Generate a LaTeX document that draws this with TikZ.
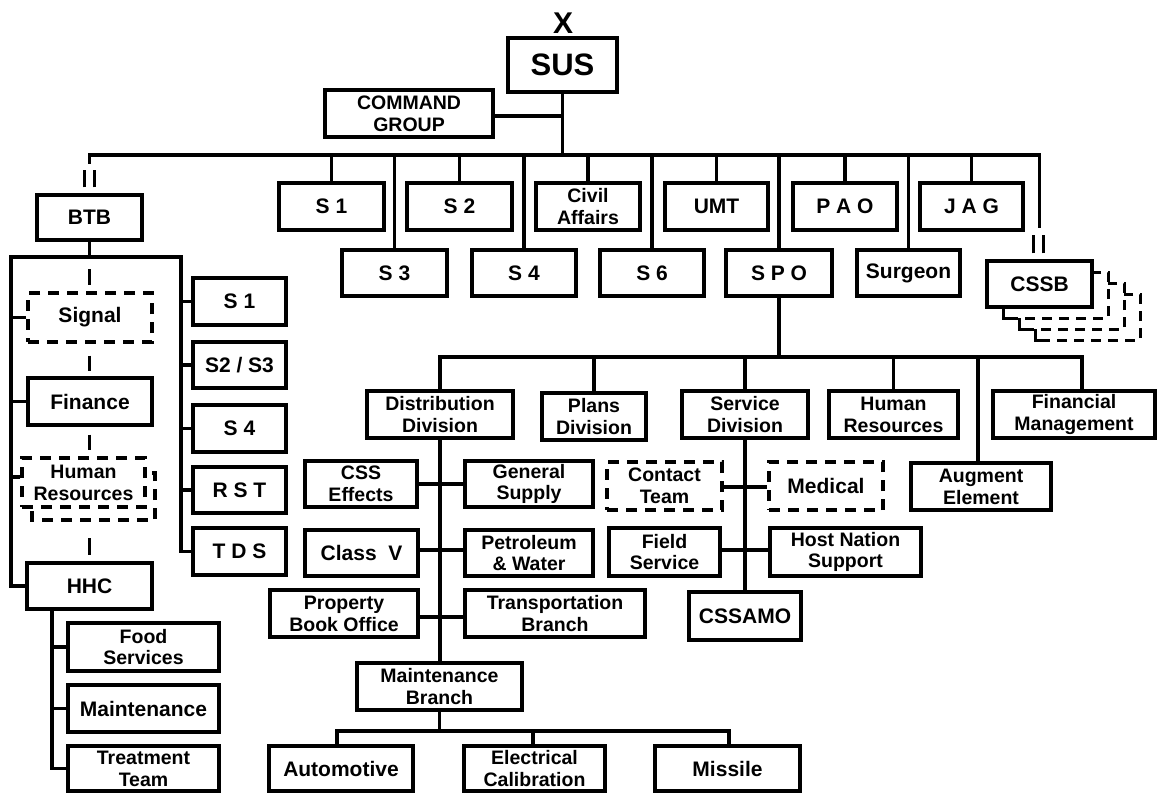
\documentclass[tikz,border=0pt]{standalone}
\usepackage{fontspec}
\setmainfont{Liberation Sans}
% place a box by its corners: style, name, x1, y1, x2, y2, text
\newcommand\placebox[7]{%
  \node[#1, minimum width={#5-#3}, minimum height={#6-#4}] (#2)
    at ({(#3+#5)/2},{(#4+#6)/2}) {#7};}
\begin{document}
\begin{tikzpicture}[x=1pt,y=-1pt,
  every node/.style={font=\bfseries\fontsize{19.5}{21.8}\selectfont},
  box/.style={draw, line width=3.2pt, fill=white, align=center, inner sep=0pt},
  one/.style={box, font=\bfseries\fontsize{21}{22}\selectfont},
  dbox/.style={box, dash pattern=on 11pt off 8pt},
  link/.style={line width=3.2pt},
  cut/.style={line width=3.6pt},
  shadow/.style={draw, line width=3pt, fill=white, dash pattern=on 10pt off 7pt},
]
\fill[white] (0,0) rectangle (1158,794);
\useasboundingbox (0,0) rectangle (1158,794);

% ---- headquarters ----
\node[font=\bfseries\fontsize{30}{30}\selectfont] (xmark) at (563,23) {X};
\placebox{box, font=\bfseries\fontsize{31}{31}\selectfont}{sus}{508}{38}{617}{92}{SUS}
\placebox{box}{cmd}{325}{90}{493}{137}{COMMAND\\GROUP}

% ---- staff sections ----
\placebox{one}{sone}{279}{183}{384}{230}{S 1}
\placebox{one}{stwo}{407}{183}{512}{230}{S 2}
\placebox{box}{civil}{536}{183}{640}{230}{Civil\\Affairs}
\placebox{one}{umt}{665}{183}{768}{230}{UMT}
\placebox{one}{pao}{793}{183}{897}{230}{P A O}
\placebox{one}{jag}{920}{183}{1023}{230}{J A G}
\placebox{one}{sthree}{342}{250}{447}{296}{S 3}
\placebox{one}{sfour}{472}{250}{576}{296}{S 4}
\placebox{one}{ssix}{600}{250}{704}{296}{S 6}
\placebox{one}{spo}{726}{250}{832}{296}{S P O}
\placebox{one}{surg}{857}{250}{960}{296}{Surgeon}

% ---- CSSB with stacked dashed copies behind it ----
\foreach \i in {3,2,1}{
  \path[shadow] ({987+16*\i},{261+11*\i}) rectangle ({1092+16*\i},{307+11*\i});
  \draw[line width=3pt] ({987+16*\i},{307+11*(\i-1)}) -- ({987+16*\i},{307+11*\i}) -- ++(10,0);
}
\placebox{one}{cssb}{987}{261}{1092}{307}{CSSB}

% ---- BTB ----
\placebox{one}{btb}{37}{195}{142}{240}{BTB}
\placebox{dbox, one}{signal}{28}{293}{152}{342}{Signal}
\placebox{one}{finance}{28}{378}{152}{425}{Finance}
\path[dbox] (32,473) rectangle (155,520);
\placebox{dbox}{hra}{22}{458}{145}{507}{Human\\Resources}
\coordinate (hrb) at (93.5,520);
\placebox{one}{hhc}{27}{563}{152}{609}{HHC}
\placebox{one}{bsone}{193}{278}{286}{325}{S 1}
\placebox{one}{bstt}{193}{342}{286}{388}{S2 / S3}
\placebox{one}{bsfour}{193}{405}{286}{452}{S 4}
\placebox{one}{rst}{193}{467}{286}{513}{R S T}
\placebox{one}{tds}{193}{528}{286}{575}{T D S}
\placebox{box}{food}{68}{623}{219}{671}{Food\\Services}
\placebox{one}{hmaint}{68}{685}{219}{732}{Maintenance}
\placebox{box}{treat}{68}{746}{219}{791}{Treatment\\Team}

% ---- SPO ----
\placebox{box}{dd}{367}{391}{513}{438}{Distribution\\Division}
\placebox{box}{pd}{542}{393}{646}{440}{Plans\\Division}
\placebox{box}{sd}{682}{391}{808}{438}{Service\\Division}
\placebox{box}{hrs}{829}{391}{958}{438}{Human\\Resources}
\placebox{box}{ae}{911}{463}{1051}{510}{Augment\\Element}
\placebox{box}{fm}{993}{391}{1155}{438}{Financial\\Management}

\placebox{box}{csse}{305}{461}{417}{507}{CSS\\Effects}
\placebox{box}{gs}{465}{461}{593}{507}{General\\Supply}
\placebox{one}{classv}{305}{530}{418}{576}{Class\ \ V}
\placebox{box}{pw}{465}{530}{593}{576}{Petroleum\\\& Water}
\placebox{box}{pbo}{270}{590}{418}{637}{Property\\Book Office}
\placebox{box}{tb}{465}{590}{645}{637}{Transportation\\Branch}
\placebox{box}{mb}{357}{663}{522}{710}{Maintenance\\Branch}
\placebox{one}{auto}{269}{746}{413}{791}{Automotive}
\placebox{box}{ec}{464}{746}{605}{791}{Electrical\\Calibration}
\placebox{one}{missile}{655}{746}{800}{791}{Missile}

\placebox{dbox}{ct}{607}{462}{722}{510}{Contact\\Team}
\placebox{dbox, one}{med}{769}{462}{883}{510}{Medical}
\placebox{box}{fs}{609}{528}{720}{576}{Field\\Service}
\placebox{box}{hns}{770}{528}{921}{576}{Host Nation\\Support}
\placebox{one}{cssamo}{689}{592}{801}{640}{CSSAMO}

% ---- connectors: headquarters and main bus ----
\coordinate (bus) at (0,155);
\coordinate (btbcut) at (89.5,164);
\coordinate (cssbcut) at (1039.5,228);
\draw[link] (sus.south) -- (sus.south |- bus);
\draw[link] (cmd.east |- 0,116) -- (sus.south |- 0,116);
\draw[link] (btbcut) |- (cssbcut |- bus) -- (cssbcut);
\draw[cut] ([xshift=-5pt,yshift=6pt]btb.north) -- ++(0,-17);
\draw[cut] ([xshift=5pt,yshift=6pt]btb.north) -- ++(0,-17);
\draw[cut] ([xshift=-6pt,yshift=6pt]cssb.north) -- ++(0,-18);
\draw[cut] ([xshift=4pt,yshift=6pt]cssb.north) -- ++(0,-18);
\foreach \n in {sone,stwo,civil,umt,pao,jag,sthree,sfour,ssix,spo,surg}
  \draw[link] (\n.north) -- (\n.north |- bus);

% ---- BTB connectors ----
\coordinate (bl) at (11,257);
\coordinate (br) at (181,257);
\draw[link] (btb.south) -- (btb.south |- bl);
\draw[link] (hhc.west) -| (bl) -- (br) |- (tds.west);
\foreach \n in {signal,finance}
  \draw[link] (\n.west) -- (\n.west -| bl);
\draw[link] (hra.west |- 0,477) -- (bl |- 0,477);
\foreach \n in {bsone,bstt,bsfour,rst}
  \draw[link] (\n.west) -- (\n.west -| br);
\draw[link, shorten <=12pt, shorten >=6pt] (btb.south |- bl) -- (btb.south |- signal.north);
\draw[link, shorten <=12pt, shorten >=5pt] (btb.south |- signal.south) -- (btb.south |- finance.north);
\draw[link, shorten <=8pt, shorten >=6pt] (btb.south |- finance.south) -- (btb.south |- hra.north);
\draw[link, shorten <=18pt, shorten >=6pt] (btb.south |- hrb) -- (btb.south |- hhc.north);
\coordinate (hl) at (52,0);
\draw[link] (hhc.south -| hl) |- (treat.west);
\foreach \n in {food,hmaint}
  \draw[link] (\n.west) -- (\n.west -| hl);

% ---- SPO connectors ----
\coordinate (dbus) at (0,357);
\coordinate (fmtop) at (1082,391);
\coordinate (aetop) at (978,463);
\draw[link] (spo.south) -- (spo.south |- dbus);
\draw[link] (dd.north) |- (fmtop |- dbus) -- (fmtop);
\draw[link] (pd.north) -- (pd.north |- dbus);
\draw[link] (sd.north) -- (sd.north |- dbus);
\draw[link] (hrs.north) -- (hrs.north |- dbus);
\draw[link] (aetop) -- (aetop |- dbus);

% distribution division
\draw[link] (dd.south) -- (dd.south |- mb.north);
\draw[link] (csse.east) -- (gs.west);
\draw[link] (classv.east |- 0,550) -- (pw.west |- 0,550);
\draw[link] (pbo.east |- 0,617) -- (tb.west |- 0,617);
\coordinate (mbus) at (0,731);
\coordinate (autotop) at (337,746);
\coordinate (ectop) at (533,746);
\coordinate (misstop) at (729,746);
\draw[link] (mb.south) -- (mb.south |- mbus);
\draw[link] (autotop) |- (misstop |- mbus) -- (misstop);
\draw[link] (ectop) -- (ectop |- mbus);

% service division
\draw[link] (sd.south) -- (cssamo.north);
\draw[link] (ct.east |- 0,487) -- (med.west |- 0,487);
\draw[link] (fs.east |- 0,550) -- (hns.west |- 0,550);
\end{tikzpicture}
\end{document}
